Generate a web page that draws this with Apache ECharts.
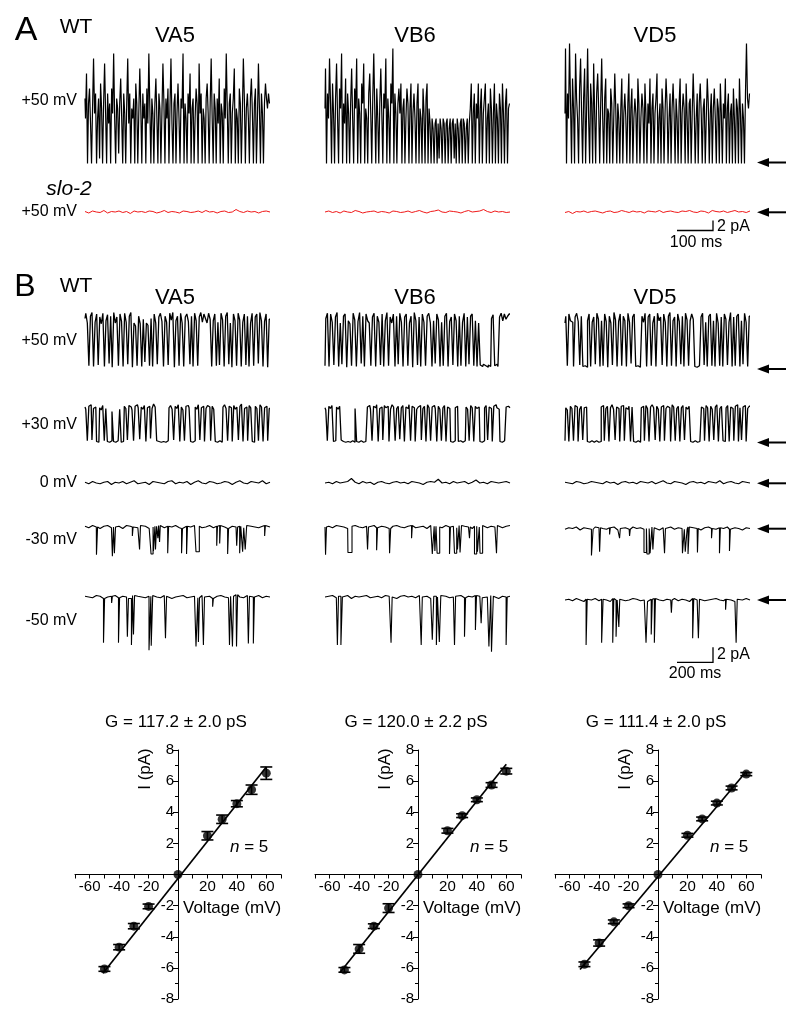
<!DOCTYPE html>
<html><head><meta charset="utf-8">
<script src="https://cdn.jsdelivr.net/npm/echarts@6/dist/echarts.min.js"></script>
<style>html,body{margin:0;padding:0;background:#fff}#c{width:800px;height:1020px}</style>
</head><body><div id="c"></div>
<script>
// ---------- DATA ----------
// Panel A, WT at +50 mV (pA), ~500 ms sweeps
const A_VA5 = [13,9,18,0,12,15,8,0,11,21,10,14,0,9,13,1,16,11,0,12,
  20,10,0,14,8,12,0,15,10,22,9,0,13,11,2,12,17,9,0,14,
  10,0,12,21,8,14,0,11,9,13,0,16,12,0,10,19,11,0,14,9,
  12,0,15,8,22,11,0,13,10,0,12,17,9,0,14,11,0,10,20,12,
  0,13,9,15,0,11,21,8,0,12,14,0,10,16,9,0,13,11,22,0,
  12,9,0,14,10,18,0,11,13,0,9,15,12,0,20,10,14,0,11,9,
  0,13,16,10,0,12,21,9,0,14,11,0,13,8,17,0,12,10,0,15,
  9,22,11,0,12,14,0,10,13,19,0,11,9,0,15,12,0,10,21,13,
  0,11,14,9,0,13,17,10,0,12,15,0,9,20,11,0,14,10,0,12,16,13,11,14,12];
const A_VB6 = [11,19,0,14,9,21,12,0,16,10,0,13,20,9,0,15,11,22,0,12,8,17,0,14,10,0,12,19,9,0,15,11,21,0,13,10,0,16,12,20,0,11,9,0,14,18,10,0,13,22,11,0,15,9,0,12,19,10,0,14,11,21,0,13,9,0,16,12,23,0,14,10,0,12,15,
  10,16,0,11,13,0,9,15,12,0,11,16,0,10,14,9,0,12,16,0,11,9,0,15,10,0,13,16,0,11,
  8,0,9,7,0,8,9,0,8,1,9,7,0,9,8,0,8,9,0,7,9,0,8,9,1,8,0,9,7,0,8,9,0,9,8,0,7,9,0,8,
  11,16,0,10,14,0,12,9,16,0,11,15,0,10,13,16,0,9,12,0,15,11,0,10,16,0,12,9,0,14,11,0,16,10,0,12,15,0,11,12];
const A_VD5 = [10,23,0,14,9,24,12,0,17,11,0,22,13,9,0,15,21,10,0,13,19,0,11,23,9,0,16,12,0,20,10,0,14,18,11,0,12,21,9,0,13,17,0,11,10,0,15,12,0,9,18,11,0,12,9,
  0,11,17,0,10,14,9,0,12,18,0,11,15,0,9,13,10,0,17,12,0,9,14,11,0,16,10,0,12,8,17,0,11,14,0,10,13,18,0,9,
  12,0,15,11,0,10,17,12,0,9,14,0,11,16,10,0,13,9,0,12,17,0,10,14,11,0,16,9,0,12,13,0,10,18,11,0,9,14,0,12,
  16,10,0,11,13,0,9,17,12,0,10,14,0,11,15,9,0,13,11,0,16,10,0,12,9,17,0,11,14,0,10,12,0,15,9,0,13,11,0,17,
  10,0,12,9,0,14,24,13,11,14];
// Panel A, slo-2 at +50 mV (pA)
const R_VA5 = [0.1,-0.2,0.2,0,-0.1,0.3,-0.2,0.1,0,0.2,-0.1,0.1,-0.3,0.2,0,0.1,-0.1,0.2,0.1,-0.2,0,0.3,-0.1,0.1,0,-0.2,0.2,0.1,-0.1,0,0.2,-0.1,0.3,0,0.1,-0.2,0.1,0.2,-0.1,0,0.5,0.1,-0.1,0.2,0,0.1,-0.2,0.1,0.2,0];
const R_VB6 = [0,0.2,-0.1,0.1,-0.2,0.2,0,-0.1,0.3,0.1,-0.2,0,0.1,0.2,-0.1,0.1,0,-0.2,0.2,0.1,-0.1,0,0.2,-0.1,0.1,0.3,0,-0.2,0.1,0.2,0.4,0,-0.1,0.2,0.1,0,-0.2,0.1,0.3,0,0.1,0.2,0.5,0.1,-0.1,0.2,0,0.1,-0.1,0];
const R_VD5 = [-0.1,0.1,-0.3,0.1,0,0.2,-0.1,0.1,0.2,0,-0.2,0.1,0.2,-0.1,0,0.3,0.1,-0.1,0.2,0,0.1,-0.2,0.2,0.1,0,0.3,-0.1,0.1,0.2,0,-0.1,0.2,0.1,0.3,0,-0.1,0.2,0.1,-0.2,0.3,0.1,0,0.2,-0.1,0.1,0.3,0,0.1,-0.1,0.2];
// Panel B, +50 mV (pA), ~1000 ms
const B50_VA5 = [6.6,7.3,6.0,0.3,6.9,7.4,0.2,6.1,7.2,0.4,6.8,5.9,7.3,0.2,6.3,7.1,0.6,6.9,0.1,7.4,6.0,6.8,0.3,7.2,6.2,0.2,7.3,6.1,0.5,6.9,7.4,0.1,6.0,5.6,0.3,6.9,5.9,0.2,6.5,0.8,6.0,5.7,0.3,6.6,0.2,7.2,6.0,0.5,6.8,7.3,6.2,0.2,6.9,6.1,0.4,7.3,6.4,7.4,0.1,6.3,6.9,0.3,7.3,6.0,0.2,6.8,7.2,6.2,0.5,6.9,0.2,7.3,6.3,0.3,6.8,7.4,6.1,7.2,6.6,6.0,7.3,6.5,0.2,6.3,7.2,0.3,6.1,0.4,7.3,6.4,0.2,6.9,7.4,0.5,6.0,0.1,7.2,6.3,0.3,7.3,6.4,0.2,6.1,7.2,0.4,6.9,0.2,6.0,7.3,0.3,6.8,7.2,0.6,7.4,6.3,0.2,6.2,7.2,0.1,6.5];
const B50_VB6 = [0.3,6.6,7.3,0.2,7.2,6.1,0.4,6.8,7.4,0.2,6.0,0.5,6.9,7.2,0.1,6.3,5.9,0.3,7.3,6.4,0.2,6.2,7.4,0.6,6.9,0.2,7.2,6.3,6.0,0.3,6.8,7.3,0.2,6.9,6.1,0.4,7.2,0.2,6.3,7.4,0.3,6.8,6.0,7.2,0.2,6.9,0.5,7.3,6.1,0.2,6.8,7.2,0.3,6.0,6.9,0.1,7.4,6.3,0.4,6.8,0.2,7.2,6.1,0.3,6.9,7.3,6.0,0.2,6.3,0.6,7.2,6.4,0.2,6.1,0.3,6.9,7.3,0.2,6.2,6.8,0.4,7.2,6.3,0.2,6.9,0.3,6.1,7.3,0.2,6.8,0.5,6.9,7.2,0.3,6.3,0.2,6.0,0.4,0.2,0.5,0.3,0.1,0.4,0.2,6.6,7.1,0.3,0.5,0.2,6.8,7.3,6.3,7.2,6.5,6.9,7.2];
const B50_VD5 = [6.0,6.9,0.3,7.2,6.3,6.1,0.2,6.8,7.3,6.2,0.4,6.9,0.2,0.3,0.1,6.3,7.2,0.2,6.1,6.8,0.5,7.3,6.5,0.2,6.3,0.3,7.2,6.2,0.1,6.9,6.0,0.4,7.4,6.4,0.2,6.2,7.2,0.3,6.9,6.3,0.2,7.3,6.1,0.6,6.8,7.2,0.2,0.3,0.1,0.4,6.9,6.1,7.3,0.2,6.8,7.2,0.3,6.0,6.9,0.2,7.3,6.3,6.8,0.4,7.2,6.1,0.2,6.9,7.4,0.3,6.3,6.8,0.2,7.2,6.2,0.5,6.9,0.2,7.3,6.4,0.3,6.3,7.2,6.5,0.2,0.1,0.3,0.2,6.8,7.3,0.4,6.1,0.2,6.9,7.2,0.3,6.3,0.2,7.3,6.0,0.3,6.8,0.2,7.2,6.5,0.4,6.1,7.4,0.2,6.8,0.3,6.9,7.2,0.2,6.3,0.5,7.3,6.1,0.2,6.9];
// Panel B, +30 mV (pA)
const B30_VA5 = [4.8,4.5,0.3,4.9,5.1,0.4,4.6,4.8,0.2,0.1,4.7,4.4,5.0,0.3,4.6,0.2,0.1,0.3,4.2,0.2,0.1,0.3,0.2,4.5,0.1,0.2,
  4.9,4.6,0.4,5.0,4.8,4.4,0.3,4.9,5.1,4.7,0.5,4.8,4.5,5.0,0.2,4.7,4.9,0.6,4.6,5.2,4.8,0.3,0.2,0.1,0.3,0.2,0.1,0.2,0.3,
  4.7,5.0,4.5,0.4,4.9,4.6,5.1,0.2,4.8,4.4,0.3,4.9,5.0,4.7,0.2,0.1,0.3,4.8,4.5,5.1,0.4,4.7,4.9,0.2,4.6,5.0,4.8,0.3,4.9,4.5,0.2,0.1,0.3,0.2,0.1,
  4.8,5.1,4.6,0.3,4.9,4.7,0.2,5.0,4.5,4.8,0.4,4.9,5.2,0.2,4.6,4.8,0.3,5.0,4.7,0.2,0.1,4.9,4.6,0.3,5.1,4.8,0.2,4.7,4.9,0.3,4.6];
const B30_VB6 = [4.7,4.4,0.3,4.9,4.6,5.0,0.2,0.3,4.8,4.5,4.9,0.4,0.2,0.1,0.3,0.2,0.1,0.2,0.3,0.1,4.6,0.2,0.1,0.3,0.2,0.1,0.2,0.3,
  4.8,5.0,4.5,0.3,4.9,4.7,5.1,0.2,4.6,4.8,0.4,5.0,4.7,4.9,0.2,4.5,5.1,4.8,0.3,4.6,4.9,0.5,4.7,5.0,0.2,4.8,4.6,5.1,0.3,4.9,4.7,0.2,4.5,4.8,5.0,0.4,4.6,4.9,0.2,5.1,4.7,0.3,4.8,5.0,4.6,0.2,4.9,4.5,0.3,4.7,5.0,0.2,4.8,4.6,
  0.2,0.1,0.3,4.7,4.9,0.2,0.3,0.1,0.2,0.3,4.8,4.5,0.3,5.0,4.7,0.2,4.9,4.6,4.8,0.2,0.1,0.3,4.7,5.0,0.4,4.8,4.6,0.2,4.9,5.1,4.7,4.5,0.2,0.1,0.3,0.2,4.8,4.9,4.7];
const B30_VD5 = [0.3,4.7,4.4,0.2,4.9,4.6,0.3,5.0,4.8,0.2,4.5,4.9,0.4,4.7,4.8,0.2,0.1,0.3,0.2,0.1,0.3,0.2,0.1,0.2,
  4.8,5.0,0.3,4.6,4.9,0.2,4.7,5.1,4.5,0.4,4.8,4.6,0.2,4.9,5.0,0.3,4.7,4.5,4.9,0.2,4.8,0.2,0.1,0.3,0.2,0.1,
  4.7,4.9,0.3,5.0,4.6,0.2,4.8,5.1,4.7,0.4,4.9,4.5,0.2,4.8,5.0,0.3,4.6,4.9,4.7,0.2,5.1,4.8,0.3,4.6,4.9,0.2,4.7,5.0,0.4,4.8,4.5,4.9,0.2,0.1,0.3,0.2,0.1,0.2,0.3,
  4.8,4.6,0.3,5.0,4.7,0.2,4.9,4.5,0.4,4.8,5.1,0.2,4.6,4.9,0.3,0.2,4.7,5.0,0.2,4.8,4.6,0.3,4.9,5.1,0.2,4.7,0.4,4.8,5.0,0.2,4.6,4.9];
// Panel B, 0 mV (pA)
const B0_VA5 = [0.1,-0.1,0.2,0,-0.1,0.1,0.2,-0.2,0.1,0,0.2,-0.1,0.1,0.3,-0.1,0,0.1,-0.2,0.2,0.1,0,-0.1,0.2,0.3,-0.1,0.1,0,0.2,-0.2,0.1,0.3,0,-0.1,0.2,0.1,-0.1,0,0.2,0.1,-0.2,0.1,0.3,0,-0.1,0.2,0.1,0,0.3,-0.1,0.1];
const B0_VB6 = [0,0.1,-0.1,0.2,0,0.1,0.2,0.6,0.1,-0.1,0.2,0,0.1,-0.2,0.1,0.2,0,-0.1,0.1,0.2,0,0.1,-0.1,0.2,0.1,0,-0.2,0.1,0.2,0.1,0.5,0,0.1,-0.1,0.2,0,0.1,0.2,-0.1,0.1,0.4,0,0.1,-0.1,0.2,0.1,0,0.1,0.2,0];
const B0_VD5 = [0.1,0,-0.1,0.2,0.1,-0.1,0,0.2,0.1,0,-0.1,0.2,0,0.1,-0.2,0.1,0.2,0,0.1,-0.1,0.2,0.1,0,0.2,-0.1,0.1,0.3,0,-0.1,0.2,0.1,0,-0.2,0.1,0.2,0,0.1,-0.1,0.2,0.1,0,0.3,-0.1,0.1,0.2,0,-0.1,0.2,0.1,0];
// Panel B, -30 mV: closed-level samples (pA) and openings [start ms, end ms, level pA]
const M30_VA5_base = [0.1,-0.1,0.2,0,-0.2,0.1,0.2,-0.1,0,0.1,-0.2,0.2,0.1,0,-0.1,0.2,0.1,-0.2,0,0.1,0.2,-0.1,0.1,0,0.2,-0.1,-0.2,0.1,0,0.2,0.1,-0.1,0,0.2,-0.1,0.1,0.2,0,-0.2,0.1,0,0.1,-0.1,0.2,0.1,0,-0.1,0.1,0.2,0];
const M30_VA5_open = [[62,68,-3.7],[148,154,-3.9],[159,165,-3.5],[256,260,-1.2],[295,300,-3.0],[357,368,-3.6],[370,378,-3.2],[381,387,-3.0],[394,398,-1.5],[403,407,-2.0],[447,452,-3.5],[522,527,-3.5],[549,554,-3.6],[600,618,-3.3],[712,716,-2.5],[728,732,-2.2],[771,776,-3.6],[820,825,-2.5],[836,842,-3.5],[852,858,-3.3],[866,874,-3.0],[971,975,-1.2]];
const M30_VB6_base = [0,0.1,-0.1,0.2,0.1,0,-0.2,0.1,0.2,0,-0.1,0.1,0,0.2,-0.1,0.1,0,-0.2,0.1,0.2,0,-0.1,0.1,0.2,-0.1,0,0.1,-0.2,0.2,0.1,0,-0.1,0.2,0,0.1,-0.1,0.2,0.1,0,-0.2,0.1,0,0.2,-0.1,0.1,0,0.2,-0.1,0.1,0.2];
const M30_VB6_open = [[3,8,-3.7],[124,146,-3.4],[230,235,-3.0],[279,284,-3.1],[349,355,-3.5],[468,472,-1.5],[580,590,-3.6],[594,600,-3.2],[606,620,-3.5],[673,678,-3.6],[700,712,-3.5],[716,725,-3.0],[730,738,-3.4],[781,785,-1.5],[808,820,-3.6],[824,834,-3.3],[838,852,-3.5],[927,932,-3.5]];
const M30_VD5_base = [-0.3,-0.1,-0.2,0,-0.4,-0.1,-0.2,-0.3,0,-0.1,-0.2,-0.3,-0.1,0,-0.4,-0.2,-0.1,-0.3,0,-0.2,-0.1,-0.3,-0.2,0,-0.1,-0.4,-0.1,-0.2,0,-0.3,-0.1,-0.2,-0.3,0,-0.1,-0.2,-0.4,-0.1,0,-0.2,-0.3,-0.1,-0.2,0,-0.3,-0.1,-0.2,-0.4,-0.1,-0.2];
const M30_VD5_open = [[143,152,-3.8],[187,192,-3.3],[241,245,-1.0],[295,299,-1.5],[349,353,-1.2],[427,440,-3.4],[443,455,-3.6],[460,470,-3.5],[475,482,-3.0],[538,543,-3.5],[635,645,-3.5],[650,660,-3.3],[665,672,-3.6],[716,720,-3.4],[792,796,-1.5],[835,840,-3.5],[889,894,-3.2]];
// Panel B, -50 mV
const M50_VA5_base = [0.1,0,-0.1,0.2,0.1,-0.2,0,0.1,0.2,-0.1,0.1,0,-0.2,0.2,0.1,0,-0.1,0.1,0.2,0,-0.1,0.2,0.1,-0.2,0,0.1,0.2,-0.1,0,0.1,-0.1,0.2,0,0.1,-0.2,0.1,0.2,0,-0.1,0.1,0.3,0,-0.1,0.2,0.1,0,0.2,-0.1,0.1,0];
const M50_VA5_open = [[100,106,-6.1],[144,148,-0.8],[181,187,-6.1],[229,235,-5.3],[251,257,-6.4],[262,268,-5.0],[346,356,-7.1],[358,366,-6.5],[435,441,-5.5],[600,610,-6.6],[613,619,-6.0],[640,646,-6.4],[690,694,-1.3],[781,787,-6.4],[797,803,-6.6],[819,825,-6.6],[883,889,-6.2],[910,916,-6.2]];
const M50_VB6_base = [0,0.1,0.2,-0.1,0.1,0,0.2,-0.2,0.1,0,0.1,0.2,-0.1,0,0.1,-0.1,0.2,0.1,0,-0.2,0.1,0.2,0,0.1,-0.1,0.2,0,0.1,-0.2,0.1,0,0.2,0.1,-0.1,0,0.1,0.2,-0.1,0.1,0,0.2,0.1,-0.1,0,0.2,0.1,-0.2,0.1,0,0.1];
const M50_VB6_open = [[67,73,-6.4],[86,94,-6.4],[357,363,-6.1],[520,526,-6.4],[580,588,-5.7],[602,608,-6.4],[618,626,-6.0],[700,706,-6.4],[754,760,-5.3],[813,819,-4.4],[844,850,-3.5],[886,896,-6.6],[900,910,-7.3],[979,985,-6.4]];
const M50_VD5_base = [-0.4,-0.3,-0.5,-0.2,-0.4,-0.6,-0.3,-0.4,-0.2,-0.5,-0.3,-0.4,-0.6,-0.2,-0.4,-0.3,-0.5,-0.4,-0.2,-0.3,-0.5,-0.4,-0.6,-0.3,-0.2,-0.4,-0.5,-0.3,-0.4,-0.2,-0.5,-0.3,-0.4,-0.6,-0.2,-0.4,-0.3,-0.5,-0.4,-0.3,-0.2,-0.4,-0.5,-0.3,-0.4,-0.6,-0.3,-0.4,-0.2,-0.4];
const M50_VD5_open = [[114,120,-6.4],[198,206,-6.1],[258,264,-6.1],[276,282,-5.3],[291,296,-4.0],[438,446,-6.1],[466,472,-5.0],[483,489,-6.1],[575,579,-2.1],[690,696,-5.5],[721,727,-5.5],[868,872,-1.7],[925,931,-6.1]];
// I-V relations
const ivVoltage = [-50,-40,-30,-20,0,20,30,40,50,60];
const ivVA5 = [-6.07,-4.67,-3.32,-2.05,0,2.49,3.55,4.55,5.45,6.51];
const ivVA5err = [0.15,0.17,0.17,0.15,0,0.27,0.27,0.2,0.3,0.4];
const ivVB6 = [-6.13,-4.78,-3.32,-2.16,0,2.81,3.78,4.80,5.75,6.64];
const ivVB6err = [0.15,0.28,0.15,0.28,0,0.15,0.12,0.12,0.15,0.18];
const ivVD5 = [-5.77,-4.40,-3.04,-2.01,0,2.52,3.57,4.59,5.56,6.45];
const ivVD5err = [0.15,0.2,0.12,0.12,0,0.12,0.12,0.12,0.12,0.1];
const fitVA5 = [[-51,-6.34],[60,6.91]];
const fitVB6 = [[-53,-6.3],[60,7.08]];
const fitVD5 = [[-53,-6.1],[60,6.62]];
const ivTitles = ['G = 117.2 \u00b1 2.0 pS','G = 120.0 \u00b1 2.2 pS','G = 111.4 \u00b1 2.0 pS'];
const xTicks = [-60,-40,-20,20,40,60];
const yTicks = [-8,-6,-4,-2,2,4,6,8];
const cellNames = ['VA5','VB6','VD5'];
const rowNamesB = ['+50 mV','+30 mV','0 mV','-30 mV','-50 mV'];

// ---------- BUILD ----------
const FONT = '"Liberation Sans", Arial, sans-serif';
const grids=[], xAxes=[], yAxes=[], series=[];
const colLeft = [85,325,565];
function sampled(arr, T){ return arr.map((v,i)=>[i*T/(arr.length-1), v]); }
function withOpenings(base, opens, T){
  const n = base.length, pts=[];
  base.forEach((v,i)=>{ const t=i*T/(n-1); if(!opens.some(o=>t>=o[0]&&t<=o[1])) pts.push([t,v]); });
  opens.forEach(o=>{ const b = base[Math.min(n-1,Math.round(o[0]/T*(n-1)))];
    const b2 = base[Math.min(n-1,Math.round(o[1]/T*(n-1)))];
    pts.push([o[0],b],[o[0],o[2]],[o[1],o[2]],[o[1],b2]); });
  return pts.sort((a,b)=>a[0]-b[0]);
}
function addTrace(left, top, height, ymin, ymax, tmax, data, color, lw, step){
  const i = grids.length;
  grids.push({left, top, width:185, height});
  xAxes.push({type:'value', gridIndex:i, min:0, max:tmax, show:false});
  yAxes.push({type:'value', gridIndex:i, min:ymin, max:ymax, show:false});
  series.push({type:'line', xAxisIndex:i, yAxisIndex:i, data, symbol:'none', silent:true, step:step||false,
    lineStyle:{color, width:lw}, animation:false, clip:false});
}
// Panel A
[A_VA5,A_VB6,A_VD5].forEach((d,k)=>addTrace(colLeft[k],43.5,125,-1,24,500,sampled(d,500),'#000',1.2,'middle'));
[R_VA5,R_VB6,R_VD5].forEach((d,k)=>addTrace(colLeft[k],202,20,-2,2,500,sampled(d,500),'#f01818',1));
// Panel B
[B50_VA5,B50_VB6,B50_VD5].forEach((d,k)=>addTrace(colLeft[k],308,67.5,-1,8,1000,sampled(d,1000),'#000',1.3,'middle'));
[B30_VA5,B30_VB6,B30_VD5].forEach((d,k)=>addTrace(colLeft[k],398,52.5,-1,6,1000,sampled(d,1000),'#000',1.3,'middle'));
[B0_VA5,B0_VB6,B0_VD5].forEach((d,k)=>addTrace(colLeft[k],475.5,15,-1,1,1000,sampled(d,1000),'#000',1.1));
[[M30_VA5_base,M30_VA5_open],[M30_VB6_base,M30_VB6_open],[M30_VD5_base,M30_VD5_open]].forEach((d,k)=>
  addTrace(colLeft[k],519.5,45,-5,1,1000,withOpenings(d[0],d[1],1000),'#000',1.1));
[[M50_VA5_base,M50_VA5_open],[M50_VB6_base,M50_VB6_open],[M50_VD5_base,M50_VD5_open]].forEach((d,k)=>
  addTrace(colLeft[k],589.5,67.5,-8,1,1000,withOpenings(d[0],d[1],1000),'#000',1.1));

// I-V plots
const ivSets = [[ivVA5,ivVA5err,fitVA5],[ivVB6,ivVB6err,fitVB6],[ivVD5,ivVD5err,fitVD5]];
ivSets.forEach((s,k)=>{
  const i = grids.length;
  grids.push({left:75+240*k, top:750, width:206, height:249});
  xAxes.push({type:'value', gridIndex:i, min:-70, max:70, interval:10, position:'bottom', offset:-124.5,
    axisLine:{onZero:false, lineStyle:{color:'#000', width:1}},
    axisTick:{show:true, length:4, lineStyle:{color:'#000'}},
    axisLabel:{fontSize:15, fontFamily:FONT, color:'#000', margin:5,
      formatter:v=>xTicks.includes(v)?String(v):''},
    splitLine:{show:false}});
  yAxes.push({type:'value', gridIndex:i, min:-8, max:8, interval:2, position:'left', offset:-103,
    axisLine:{onZero:false, lineStyle:{color:'#000', width:1}},
    axisTick:{show:true, length:5, lineStyle:{color:'#000'}},
    minorTick:{show:true, splitNumber:2, length:3, lineStyle:{color:'#000'}},
    axisLabel:{fontSize:15, fontFamily:FONT, color:'#000', margin:4,
      formatter:v=>yTicks.includes(v)?String(v):''},
    splitLine:{show:false}});
  series.push({type:'line', xAxisIndex:i, yAxisIndex:i, data:s[2], symbol:'none',
    lineStyle:{color:'#000', width:1.7}, animation:false, silent:true, z:3});
  series.push({type:'custom', xAxisIndex:i, yAxisIndex:i, animation:false, silent:true, z:4,
    data: ivVoltage.map((v,j)=>[v, s[0][j]-s[1][j], s[0][j]+s[1][j]]).filter((d,j)=>s[1][j]>0),
    renderItem:(params, api)=>{
      const x=api.value(0), p1=api.coord([x,api.value(1)]), p2=api.coord([x,api.value(2)]), w=6;
      const st={stroke:'#000', lineWidth:1.6};
      return {type:'group', children:[
        {type:'line', shape:{x1:p1[0],y1:p1[1],x2:p2[0],y2:p2[1]}, style:st},
        {type:'line', shape:{x1:p1[0]-w,y1:p1[1],x2:p1[0]+w,y2:p1[1]}, style:st},
        {type:'line', shape:{x1:p2[0]-w,y1:p2[1],x2:p2[0]+w,y2:p2[1]}, style:st}]};
    }});
  series.push({type:'scatter', xAxisIndex:i, yAxisIndex:i, data: ivVoltage.map((v,j)=>[v,s[0][j]]),
    symbol:'circle', symbolSize:9, itemStyle:{color:'#000'}, animation:false, silent:true, z:5});
});

// ---------- ANNOTATIONS ----------
const gfx=[];
function txt(x,y,text,size,align,extra,fontStyle){
  return Object.assign({type:'text', x, y, silent:true, z:10,
    style:{text, font:(fontStyle?fontStyle+' ':'')+size+'px '+FONT, fill:'#000', align:align||'center', verticalAlign:'middle',
      textAlign:align||'center', textVerticalAlign:'middle'}}, extra||{});
}
function arrow(y){
  gfx.push({type:'line', silent:true, shape:{x1:766,y1:y,x2:786,y2:y}, style:{stroke:'#000', lineWidth:2}});
  gfx.push({type:'polygon', silent:true, shape:{points:[[757,y],[769,y-4.5],[769,y+4.5]]}, style:{fill:'#000'}});
}
// Panel A labels
gfx.push(txt(26,31,'A',34));
gfx.push(txt(76,27,'WT',21));
cellNames.forEach((n,k)=>gfx.push(txt(colLeft[k]+90,36,n,22)));
gfx.push(txt(77,101,'+50 mV',16,'right'));
gfx.push(txt(69,189,'slo-2',21,'center',null,'italic'));
gfx.push(txt(77,212,'+50 mV',16,'right'));
arrow(162.5); arrow(212.3);
gfx.push({type:'polyline', silent:true, shape:{points:[[677,230.5],[713,230.5],[713,220.5]]}, style:{stroke:'#000', lineWidth:1.3, fill:null}});
gfx.push(txt(717,227,'2 pA',16,'left'));
gfx.push(txt(696,243,'100 ms',16));
// Panel B labels
gfx.push(txt(25,287,'B',32));
gfx.push(txt(76,286,'WT',21));
cellNames.forEach((n,k)=>gfx.push(txt(colLeft[k]+90,298,n,22)));
[340.5,425,483,540,621].forEach((y,k)=>gfx.push(txt(77,y,rowNamesB[k],16,'right')));
[369,442.5,483.3,528.7,600].forEach(y=>arrow(y));
gfx.push({type:'polyline', silent:true, shape:{points:[[677,662.3],[713,662.3],[713,647.3]]}, style:{stroke:'#000', lineWidth:1.3, fill:null}});
gfx.push(txt(717,655,'2 pA',16,'left'));
gfx.push(txt(695,674,'200 ms',16));
// I-V labels
ivTitles.forEach((t,k)=>{
  const o=240*k;
  gfx.push(txt(176+o,722,t,17));
  gfx.push(txt(145+o,769,'I (pA)',17,'center',{rotation:Math.PI/2}));
  gfx.push(txt(183+o,908,'Voltage (mV)',17,'left'));
  gfx.push(txt(230+o,847,'n',17,'left',null,'italic'));
  gfx.push(txt(239.5+o,847,' = 5',17,'left'));
});

const chart = echarts.init(document.getElementById('c'));
chart.setOption({animation:false, backgroundColor:'#fff', grid:grids, xAxis:xAxes, yAxis:yAxes, series, graphic:{elements:gfx}});
</script></body></html>
